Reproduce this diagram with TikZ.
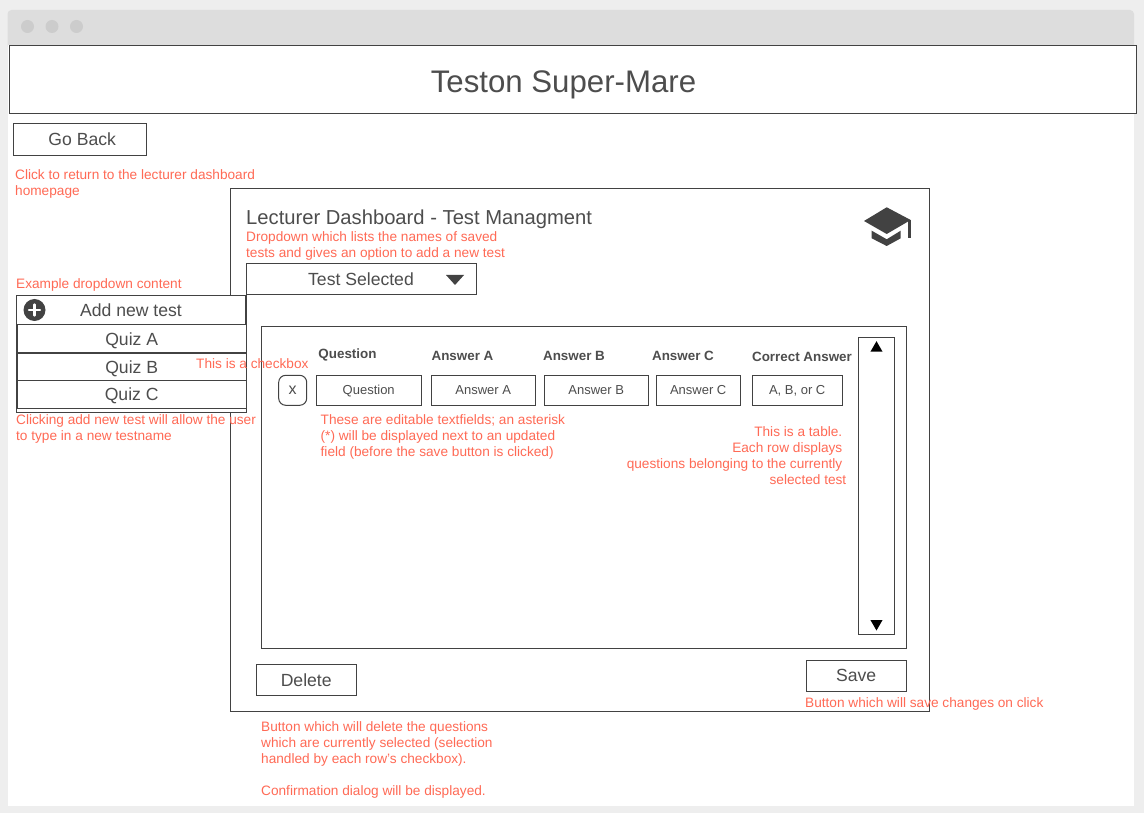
\documentclass[tikz,border=0pt]{standalone}
\usepackage{fontspec}
\setmainfont{Liberation Sans}
\usepackage{xcolor}
\usetikzlibrary{shapes.geometric}
\definecolor{wire}{HTML}{424242}
\definecolor{label}{HTML}{4D4D4D}
\definecolor{note}{HTML}{FF6A55}
\definecolor{chrome}{HTML}{DDDDDD}
\definecolor{dots}{HTML}{CCCCCC}
\definecolor{page}{HTML}{EEEEEE}
\tikzset{
    wire-box/.style = {draw=wire, fill=white, line width=1pt, rectangle, inner sep=0pt, text=label, font=\fontsize{17.6}{21}\selectfont, text height=14pt, text depth=1.4pt, anchor=north west, xshift=-0.8pt, yshift=0.7pt},
    field-box/.style = {wire-box, font=\fontsize{13}{16}\selectfont, text height=11pt, text depth=1.7pt},
    col-title/.style = {text=label, inner sep=0pt, font=\fontsize{13.4}{16}\selectfont\bfseries},
    note-text/.style = {text=note, inner sep=0pt, anchor=north west, align=left, font=\fontsize{13.65}{16}\selectfont},
    win-dot/.style = {circle, fill=dots, minimum size=13pt, inner sep=0pt},
    scroll-tip/.style = {regular polygon, regular polygon sides=3, fill=black, inner sep=0pt, minimum size=14pt},
}
\begin{document}
\begin{tikzpicture}[x=1pt,y=-1pt]
\useasboundingbox (0,0) rectangle (1144,813);
\fill[page] (0,0) rectangle (1144,813);
% window
\fill[white] (7.5,40) rectangle (1134,806);
\fill[chrome, rounded corners=4pt] (7.5,10) rectangle (1134,50);
\fill[white] (7.5,45) rectangle (1134,50);
\node[win-dot] (dota) at (27.5,26.5) {};
\node[win-dot] (dotb) at (52,26.5) {};
\node[win-dot] (dotc) at (76.5,26.5) {};
% header
\node[wire-box, minimum width=1127pt, minimum height=68pt] (header) at (9.3,45.5) {};
\node[text=label, inner sep=0pt, font=\fontsize{31.2}{36}\selectfont] (headertitle) at (563.5,85) {Teston Super-Mare};
\node[wire-box, minimum width=133pt, minimum height=32pt] (goback) at (13.5,123.5) {\hspace*{5pt}Go Back};
\node[note-text] (gobacknote) at (15,169) {Click to return to the lecturer dashboard\\homepage};
% main panel
\node[wire-box, minimum width=699pt, minimum height=523pt] (panel) at (230.5,188.5) {};
\node[text=label, inner sep=0pt, anchor=west, font=\fontsize{20.2}{24}\selectfont] (paneltitle) at (246,219) {Lecturer Dashboard - Test Managment};
\node[note-text] (dropnote) at (246,231.5) {Dropdown which lists the names of saved\\tests and gives an option to add a new test};
% cap icon
\fill[wire] (864,221) -- (886.7,207.3) -- (910.7,220) -- (886.7,234) -- cycle;
\fill[wire] (871.7,230.7) -- (886.7,239.3) -- (900.7,230.7) -- (900.7,238.3) -- (886.7,246) -- (871.7,238.3) -- cycle;
\fill[wire] (907.7,220) rectangle (910.7,237.7);
% dropdown
\node[wire-box, minimum width=230pt, minimum height=31pt] (testsel) at (246.5,263.5) {};
\node[text=label, inner sep=0pt, font=\fontsize{17.6}{21}\selectfont] (testsellabel) at (361,279) {Test Selected};
\fill[wire] (446,275) -- (464,275) -- (455,285) -- cycle;
% dropdown content
\node[note-text] (examplenote) at (16,278) {Example dropdown content};
\node[wire-box, minimum width=230pt, minimum height=117pt] (dropbox) at (16.5,295.5) {};
\node[wire-box, minimum width=229pt, minimum height=29pt] (addnew) at (16.5,295.5) {};
\node[text=label, inner sep=0pt, font=\fontsize{17.6}{21}\selectfont] (addlabel) at (131,310) {Add new test};
\node[circle, fill=wire, minimum size=22pt, inner sep=0pt] (plus) at (34.5,310) {};
\draw[white, line width=2.4pt, line cap=round] (plus.center) ++(-5.5,0) -- ++(11,0) (plus.center) ++(0,-5.5) -- ++(0,11);
\node[wire-box, minimum width=229pt, minimum height=28pt, text depth=0.4pt] (quiza) at (17.5,324.5) {Quiz A};
\node[wire-box, minimum width=229pt, minimum height=28pt] (quizb) at (17.5,353.5) {Quiz B};
\node[wire-box, minimum width=229pt, minimum height=28pt] (quizc) at (17.5,380.5) {Quiz C};
\node[note-text] (addnote) at (16,414) {Clicking add new test will allow the user\\to type in a new testname};
% table
\node[wire-box, minimum width=645pt, minimum height=322pt] (table) at (261.5,326.5) {};
\node[col-title] (colq) at (347.5,354.5) {Question};
\node[col-title] (cola) at (462.5,355.5) {Answer A};
\node[col-title] (colb) at (574,355.5) {Answer B};
\node[col-title] (colc) at (683,355.5) {Answer C};
\node[col-title] (colr) at (802,356.5) {Correct Answer};
\node[wire-box, rounded corners=7pt, minimum width=28pt, minimum height=30pt, font=\fontsize{16}{16}\selectfont, text height=10pt, text depth=1pt] (check) at (279,375.5) {x};
\node[note-text] (checknote) at (196,358) {This is a checkbox};
\node[field-box, minimum width=105pt, minimum height=30pt] (fieldq) at (316.5,375.5) {Question};
\node[field-box, minimum width=104pt, minimum height=30pt] (fielda) at (431.5,375.5) {Answer A};
\node[field-box, minimum width=104pt, minimum height=30pt] (fieldb) at (544.5,375.5) {Answer B};
\node[field-box, minimum width=84pt, minimum height=30pt] (fieldc) at (656.5,375.5) {Answer C};
\node[field-box, minimum width=90pt, minimum height=30pt] (fieldr) at (752.5,375.5) {A, B, or C};
\node[note-text] (fieldnote) at (320.5,414) {These are editable textfields; an asterisk\\(*) will be displayed next to an updated\\field (before the save button is clicked)};
\node[note-text, align=right, anchor=north east] (tablenote) at (842.5,426) {This is a table.\\Each row displays\\questions belonging to the currently\\selected test\hspace*{-4pt}};
% scrollbar
\node[wire-box, minimum width=36pt, minimum height=297pt] (scroll) at (858.5,337.5) {};
\node[scroll-tip] (scrollup) at (876.5,348.2) {};
\node[scroll-tip, shape border rotate=180] (scrolldown) at (876.5,623.5) {};
% buttons
\node[wire-box, minimum width=100pt, minimum height=31pt] (delete) at (256.5,664.5) {Delete};
\node[wire-box, minimum width=100pt, minimum height=31pt, text depth=2.4pt] (save) at (806.5,660.5) {Save};
\node[note-text] (savenote) at (805,697) {Button which will save changes on click};
\node[note-text] (deletenote) at (261,721) {Button which will delete the questions\\which are currently selected (selection\\handled by each row's checkbox).\\[16pt]Confirmation dialog will be displayed.};
\end{tikzpicture}
\end{document}
